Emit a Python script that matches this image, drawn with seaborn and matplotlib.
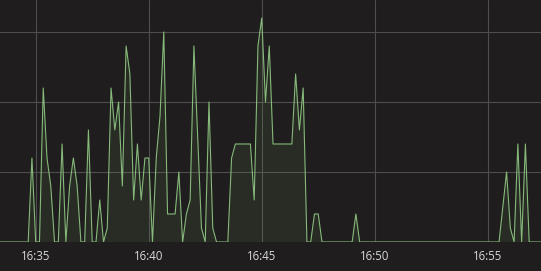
import numpy as np
import pandas as pd
import matplotlib
matplotlib.use("Agg")
import matplotlib.pyplot as plt
import matplotlib.dates as mdates
import seaborn as sns

# ---- data (10 s samples starting 16:33:20) ----
start_time = "2017-01-01 16:33:20"
step_seconds = 10
values = (
    [0, 0, 0, 0, 0, 0, 0, 0, 0, 1.2,            # 16:33:20 .. 16:34:50
     0, 0, 2.2, 1.2, 0.8, 0, 0, 1.4, 0, 0.8,     # 16:35:00 ..
     1.2, 0.8, 0, 0, 1.6, 0, 0, 0.6, 0, 0.2,
     2.2, 1.6, 2.0, 0.8, 2.8, 2.4, 0.6, 1.4, 0.6, 1.2,
     1.2, 0, 1.2, 1.8, 3.0, 0.4, 0.4, 0.4, 1.0, 0,
     0.4, 0.6, 2.8, 1.5, 0.2, 0, 2.0, 0.2, 0, 0,
     0, 0, 1.2, 1.4, 1.4, 1.4, 1.4, 1.4, 0.6, 2.8,
     3.2, 2.0, 2.8, 1.4, 1.4, 1.4, 1.4, 1.4, 1.4, 2.4,
     1.6, 2.2, 0, 0, 0.4, 0.4, 0]
    + [0] * 8 + [0.4] + [0] * 38
    + [0.5, 1.0, 0.2, 0, 1.4, 0, 1.4, 0, 0, 0, 0, 0]
)
times = pd.date_range(start_time, periods=len(values), freq=f"{step_seconds}s")
df = pd.DataFrame({"time": times, "value": values})

view_start = pd.Timestamp("2017-01-01 16:33:25.2")
view_end = pd.Timestamp("2017-01-01 16:57:21.4")

# ---- style ----
bg = "#1f1d1d"
line_color = "#86b97a"
fill_color = "#7eb26d"
grid_color = "#4f4e4e"
sns.set_theme(style="dark", rc={
    "axes.facecolor": bg, "figure.facecolor": bg,
    "axes.edgecolor": bg, "grid.color": grid_color,
})
plt.rcParams["font.family"] = ["Open Sans", "DejaVu Sans"]

fig = plt.figure(figsize=(5.41, 2.71), dpi=100)
ax = fig.add_axes([0, 29 / 271, 1, 242 / 271])
ax.set_facecolor(bg)

sns.lineplot(data=df, x="time", y="value", ax=ax, color=line_color,
             linewidth=0.8, zorder=3)
ax.fill_between(df["time"], df["value"], 0, color=fill_color, alpha=0.1,
                linewidth=0, zorder=2)

ax.set_xlim(view_start, view_end)
ax.set_ylim(0, 3.457)
ax.set_yticks([0, 1, 2, 3])
ax.set_yticklabels([])
ax.xaxis.set_major_locator(mdates.MinuteLocator(byminute=range(0, 60, 5)))
ax.xaxis.set_major_formatter(mdates.DateFormatter("%H:%M"))
ax.grid(True, color=grid_color, linewidth=0.8, zorder=0)
ax.set_axisbelow(True)
ax.tick_params(axis="x", length=0, pad=6, labelsize=8.3, colors="#d8d9da")
ax.tick_params(axis="y", length=0)
ax.set_xlabel("")
ax.set_ylabel("")
for s in ax.spines.values():
    s.set_visible(False)

fig.savefig("out.png", dpi=100, facecolor=bg)
